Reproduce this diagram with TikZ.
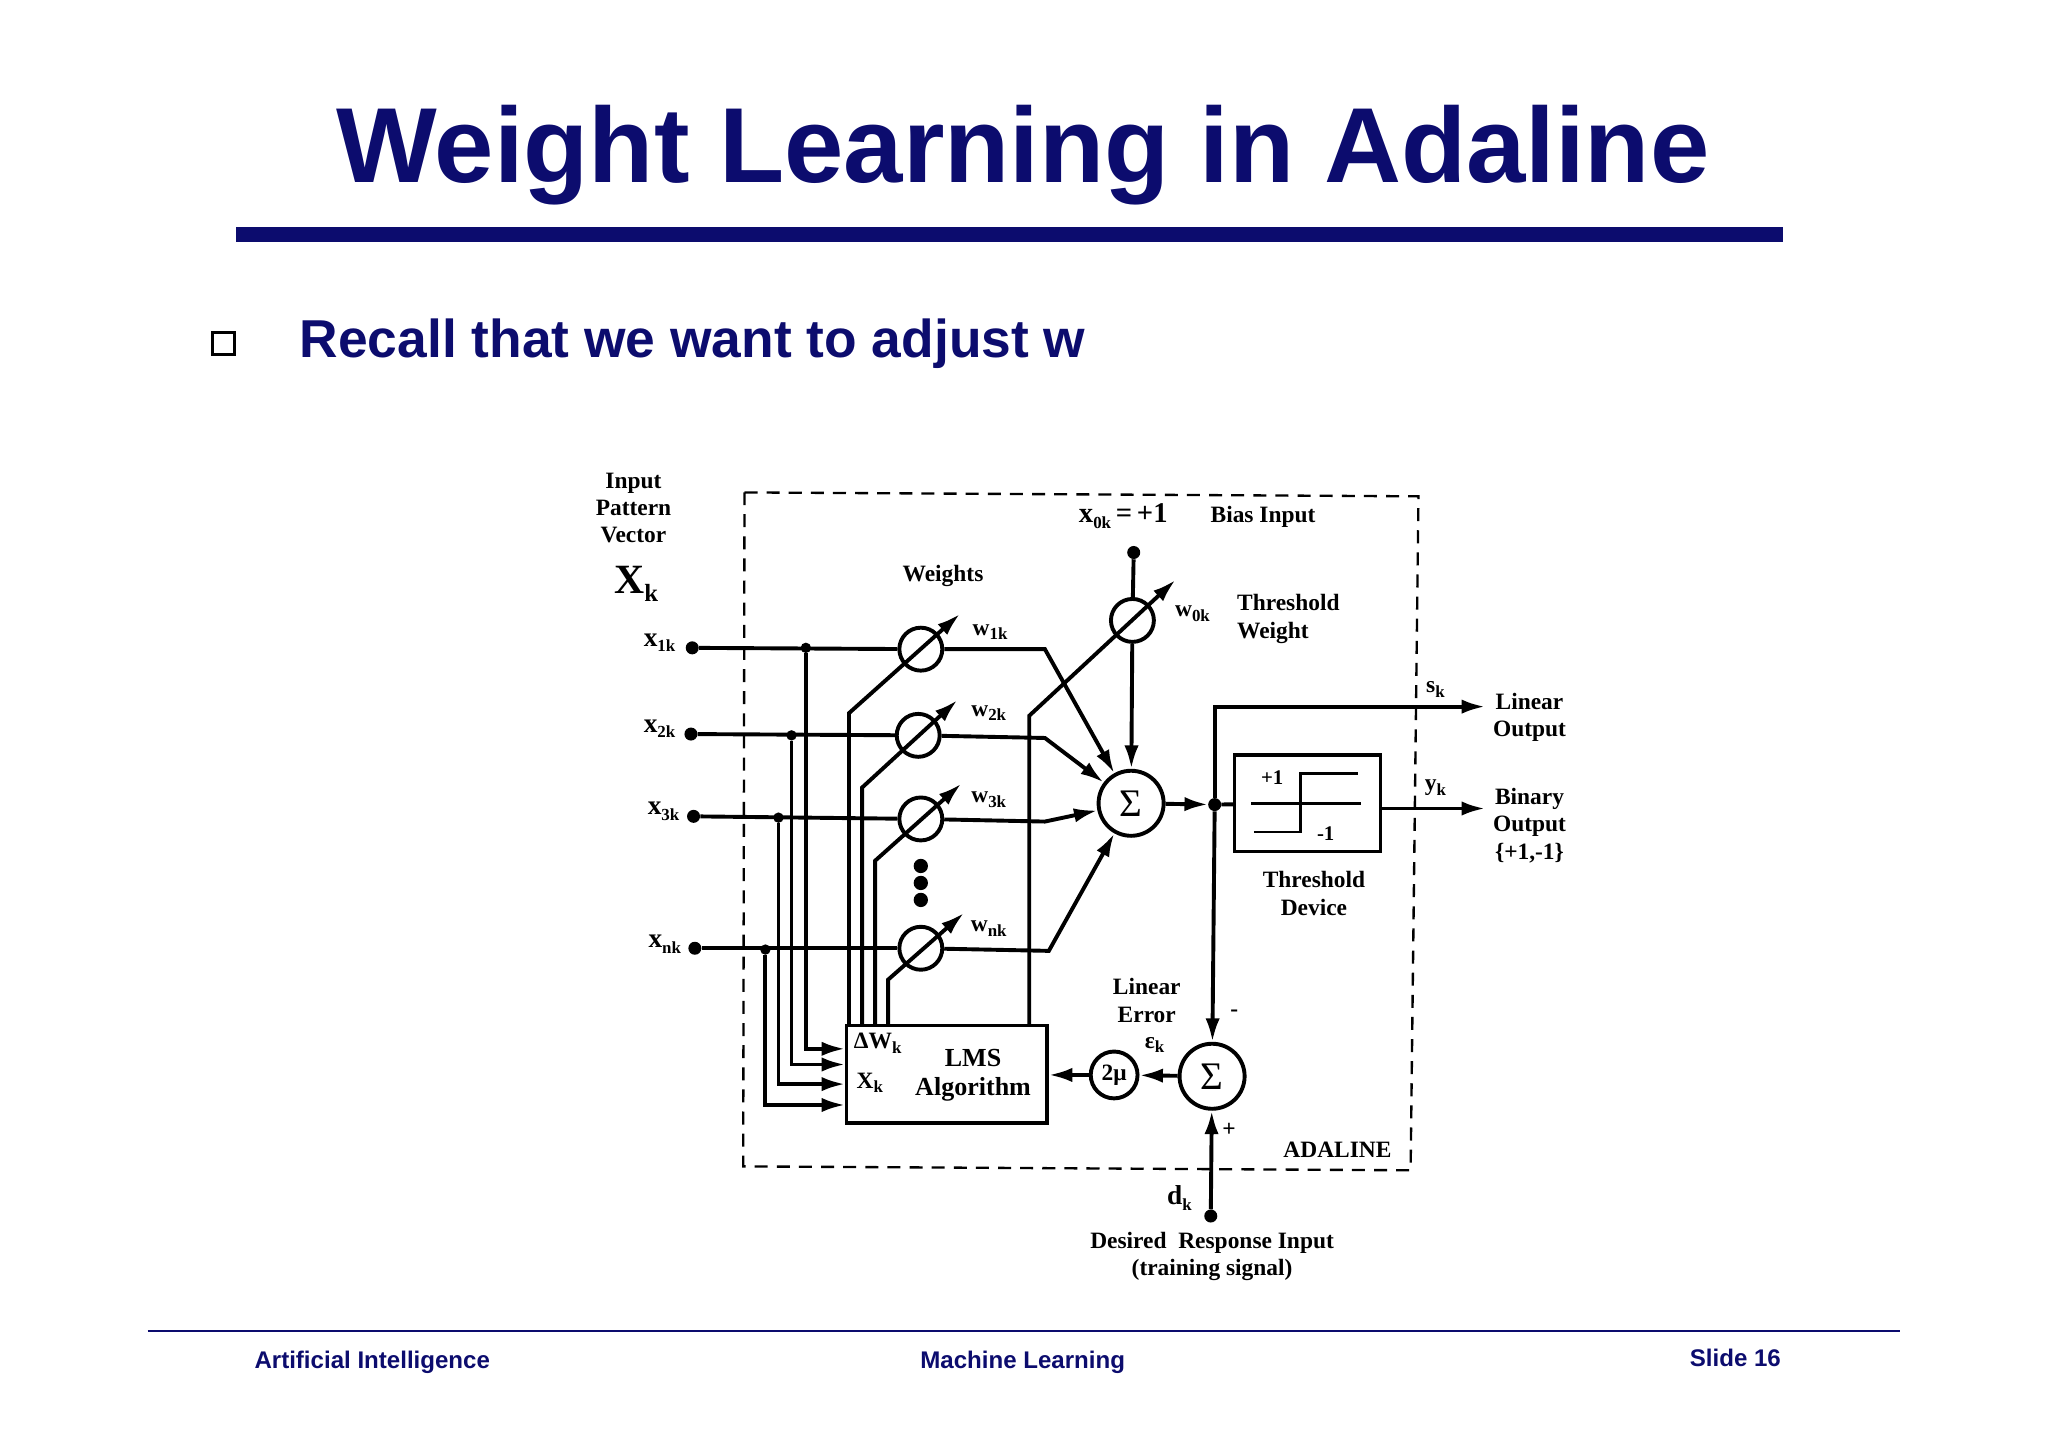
\documentclass[tikz,border=0pt]{standalone}
\usepackage{fontspec}
\setmainfont{Liberation Serif}
\newfontfamily\hsans{Liberation Sans}
\usetikzlibrary{arrows.meta}
\definecolor{navy}{RGB}{12,12,110}
\newcommand{\msub}[1]{\raisebox{-0.45ex}{\fontsize{13}{13}\selectfont #1}}
\tikzset{
  lab/.style={font=\bfseries\fontsize{18}{21}\selectfont, align=center, inner sep=1pt},
  wire/.style={line width=3pt},
  arr/.style={wire, -{Latex[length=18pt,width=11pt]}},
  wcirc/.style={circle, draw, line width=3pt, minimum size=33pt, inner sep=0pt},
  scirc/.style={circle, draw, line width=3pt, minimum size=50pt, inner sep=0pt, font=\fontsize{30}{30}\selectfont},
  dot/.style={circle, fill, inner sep=0pt, minimum size=10pt},
}
\begin{document}
\begin{tikzpicture}[x=1bp,y=-1bp]
\useasboundingbox (0,0) rectangle (1568,1109);
% header
\node[font=\hsans\bfseries\fontsize{82}{90}\selectfont, text=navy, anchor=base] (title) at (783,140) {Weight Learning in Adaline};
\fill[navy] (181,174) rectangle (1365,185);
\node[draw=black, line width=2pt, minimum size=17pt, inner sep=0pt] (bul) at (171,263) {};
\node[font=\hsans\bfseries\fontsize{41}{45}\selectfont, text=navy, anchor=base west] (rec) at (226,274) {Recall that we want to adjust w};
% footer
\draw[navy, line width=1.5pt] (113,1019) -- (1455,1019);
\node[font=\hsans\bfseries\fontsize{18.5}{20}\selectfont, text=navy] (f1) at (285,1043) {Artificial Intelligence};
\node[font=\hsans\bfseries\fontsize{18.5}{20}\selectfont, text=navy] (f2) at (783,1043) {Machine Learning};
\node[font=\hsans\bfseries\fontsize{18.5}{20}\selectfont, text=navy, anchor=east] (f3) at (1367,1040) {Slide 16};
% dashed box
\draw[line width=1.8pt, dash pattern=on 10pt off 7pt] (570,377) -- (1086,380) -- (1080,896) -- (569,893) -- cycle;
% input labels
\node[lab] (ipv) at (485,389) {Input\\Pattern\\Vector};
\node[lab, font=\bfseries\fontsize{32}{32}\selectfont] (Xk) at (487,447) {X\msub{\fontsize{19}{19}\selectfont k}};
\node[dot] (i1) at (530,496) {};
\node[dot] (i2) at (529,562) {};
\node[dot] (i3) at (531,625) {};
\node[dot] (in) at (532,726) {};
\node[lab, font=\bfseries\fontsize{21}{21}\selectfont] (l1) at (505,492) {x\msub{1k}};
\node[lab, font=\bfseries\fontsize{21}{21}\selectfont] (l2) at (505,558) {x\msub{2k}};
\node[lab, font=\bfseries\fontsize{21}{21}\selectfont] (l3) at (508,621) {x\msub{3k}};
\node[lab, font=\bfseries\fontsize{21}{21}\selectfont] (ln) at (509,723) {x\msub{nk}};
% weights
\node[wcirc] (w1) at (705,497) {};
\node[wcirc] (w2) at (703,563) {};
\node[wcirc] (w3) at (705,627) {};
\node[wcirc] (wn) at (705,726) {};
\node[wcirc] (w0) at (867,475) {};
\node[lab] (wl) at (722,441) {Weights};
\node[lab] (wl1) at (758,484) {w\msub{1k}};
\node[lab] (wl2) at (757,546) {w\msub{2k}};
\node[lab] (wl3) at (757,612) {w\msub{3k}};
\node[lab] (wln) at (757,711) {w\msub{nk}};
\node[lab] (wl0) at (913,470) {w\msub{0k}};
\fill (705,663) circle (5.5pt) (705,676) circle (5.5pt) (705,689) circle (5.5pt);
% LMS
\node[draw, line width=2.6pt, minimum width=154pt, minimum height=75pt, inner sep=0pt] (lms) at (725,822.5) {};
\node[lab] (dw) at (672,799) {ΔW\msub{k}};
\node[lab] (xk2) at (666,829) {X\msub{k}};
\node[lab, font=\bfseries\fontsize{20}{22}\selectfont] (lmst) at (745,823) {LMS\\Algorithm};
% input wires
\draw[wire] (i1) -- (w1);
\draw[wire] (i2) -- (w2);
\draw[wire] (i3) -- (w3);
\draw[wire] (in) -- (wn);
\node[dot, minimum size=8pt] (t1) at (617,496) {};
\node[dot, minimum size=8pt] (t2) at (606,563) {};
\node[dot, minimum size=8pt] (t3) at (596,626) {};
\node[dot, minimum size=8pt] (tn) at (586,727) {};
\coordinate (a1) at (617,803); \coordinate (a2) at (606,815);
\coordinate (a3) at (596,830); \coordinate (an) at (586,846);
\draw[arr] (t1) -- (a1) -- (a1 -| lms.west);
\draw[arr] (t2) -- (a2) -- (a2 -| lms.west);
\draw[arr] (t3) -- (a3) -- (a3 -| lms.west);
\draw[arr] (tn) -- (an) -- (an -| lms.west);
% weight adjust lines
\coordinate (b1) at (650,785); \coordinate (c1) at (650,546); \coordinate (e1) at (735,470);
\coordinate (b2) at (660,785); \coordinate (c2) at (660,603); \coordinate (e2) at (733,536);
\coordinate (b3) at (670,785); \coordinate (c3) at (670,659); \coordinate (e3) at (736,600);
\coordinate (bn) at (680,785); \coordinate (cn) at (680,750); \coordinate (en) at (738,699);
\coordinate (b0) at (788,785); \coordinate (c0) at (788,548); \coordinate (e0) at (900,444);
\draw[arr] (b1) -- (c1) -- (e1);
\draw[arr] (b2) -- (c2) -- (e2);
\draw[arr] (b3) -- (c3) -- (e3);
\draw[arr] (bn) -- (cn) -- (en);
\draw[arr] (b0) -- (c0) -- (e0);
% summation
\node[scirc] (sum) at (866,615) {Σ};
\coordinate (o1) at (800,497); \coordinate (o2) at (800,565);
\coordinate (o3) at (800,629); \coordinate (on) at (803,728);
\draw[arr] (w1) -- (o1) -- (sum);
\draw[arr] (w2) -- (o2) -- (sum);
\draw[arr] (w3) -- (o3) -- (sum);
\draw[arr] (wn) -- (on) -- (sum);
\node[dot] (bias) at (868,423) {};
\node[lab, font=\bfseries\fontsize{22}{22}\selectfont] (x0) at (860,395) {x\msub{0k}\,=\,+1};
\node[lab] (bi) at (967,396) {Bias Input};
\node[lab, align=left, anchor=west] (tw) at (946,474) {Threshold\\Weight};
\draw[wire] (bias) -- (w0);
\draw[arr] (w0) -- (sum);
% junction and outputs
\node[dot] (jn) at (930,616) {};
\draw[arr] (sum) -- (jn);
\node[draw, line width=2.6pt, minimum width=112pt, minimum height=74pt, inner sep=0pt] (thr) at (1001,615) {};
\draw[wire] (jn) -- (thr);
\draw[line width=2.2pt] (958,615) -- (1042,615);
\draw[line width=2.2pt] (960,637) -- (996,637) -- (996,592) -- (1040,592);
\node[lab, font=\bfseries\fontsize{16}{16}\selectfont] (p1) at (974,595) {+1};
\node[lab, font=\bfseries\fontsize{16}{16}\selectfont] (m1) at (1015,638) {-1};
\node[lab] (td) at (1006,684) {Threshold\\Device};
\coordinate (ly) at (1137,619);
\draw[arr] (thr.east |- ly) -- (ly);
\coordinate (ls0) at (930,541); \coordinate (ls) at (1137,541);
\draw[arr] (jn) -- (ls0) -- (ls);
\node[lab] (sk) at (1099,528) {s\msub{k}};
\node[lab] (yk) at (1099,603) {y\msub{k}};
\node[lab] (lo) at (1171,549) {Linear\\Output};
\node[lab] (bo) at (1171,632) {Binary\\Output\\\{+1,-1\}};
% error
\node[scirc] (esum) at (928,824) {Σ};
\draw[arr] (jn) -- (esum);
\node[lab] (minus) at (945,776) {-};
\node[lab] (plus) at (941,865) {+};
\node[dot] (dk) at (927,931) {};
\draw[arr] (dk) -- (esum);
\node[lab, font=\bfseries\fontsize{21}{21}\selectfont] (dkl) at (903,917) {d\msub{k}};
\node[lab] (dri) at (928,962) {Desired~ Response Input\\(training signal)};
\node[circle, draw, line width=3pt, minimum size=36pt, inner sep=0pt, font=\bfseries\fontsize{18}{18}\selectfont] (mu) at (853,823) {2μ};
\draw[arr] (esum) -- (mu);
\draw[arr] (mu) -- (lms.east |- mu);
\node[lab] (le) at (878,766) {Linear\\Error};
\node[lab] (ek) at (884,800) {ε\msub{k}};
\node[lab] (ada) at (1024,880) {ADALINE};
\end{tikzpicture}
\end{document}
